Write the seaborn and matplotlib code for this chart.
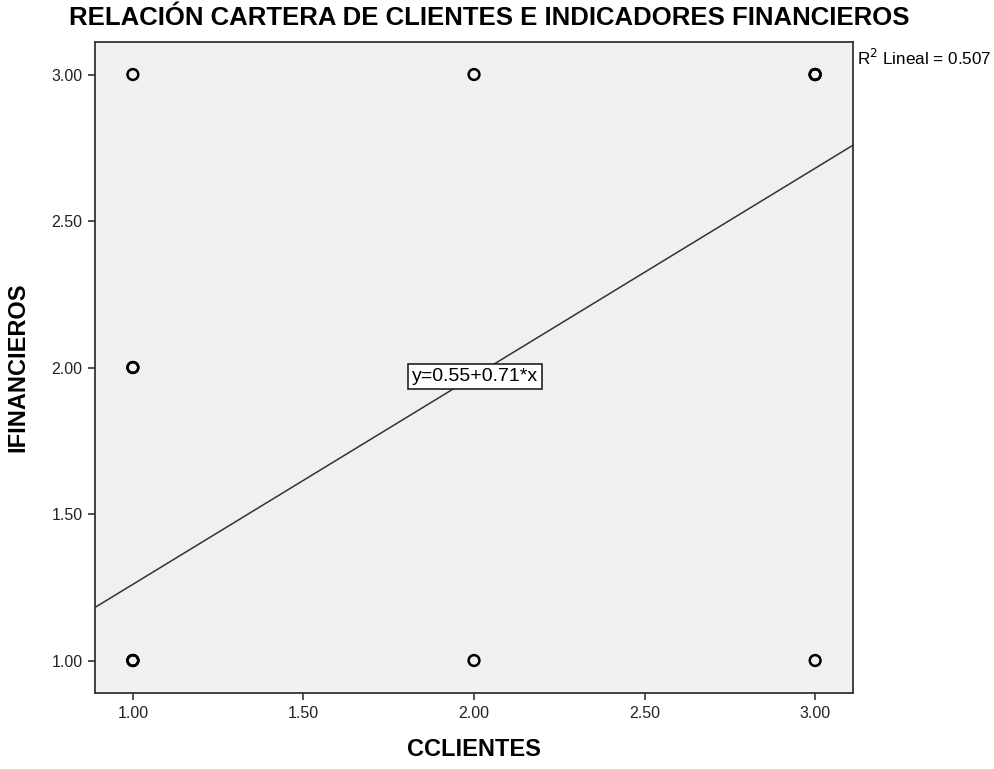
import numpy as np
import pandas as pd
import matplotlib
matplotlib.use("Agg")
import matplotlib.pyplot as plt
import seaborn as sns

# observed points (duplicates overlap, drawn thicker)
cclientes = [1, 1, 1, 1, 1, 1, 2, 2, 3, 3, 3, 3]
ifinancieros = [1, 1, 2, 2, 3, 1, 3, 1, 3, 3, 1, 3]

# fit line reported by the chart
intercept = 0.55
slope = 0.71
r2 = 0.507

ticks = [1.0, 1.5, 2.0, 2.5, 3.0]
lims = (0.889, 3.111)

df = pd.DataFrame({"CCLIENTES": cclientes, "IFINANCIEROS": ifinancieros})

sns.set_style("ticks")
plt.rcParams['font.family'] = ['Liberation Sans', 'DejaVu Sans']
plt.rcParams['text.color'] = 'black'
plt.rcParams['axes.labelcolor'] = 'black'

fig = plt.figure(figsize=(9.95, 7.69), dpi=100)
ax = fig.add_axes([0.0955, 0.0988, 0.7618, 0.8466])
ax.set_facecolor("#F0F0F0")

sns.scatterplot(data=df, x="CCLIENTES", y="IFINANCIEROS", ax=ax,
                marker="o", s=60, facecolor="none", edgecolor="black",
                linewidth=1.8, zorder=3)

xs = np.array(lims)
sns.lineplot(x=xs, y=intercept + slope * xs, ax=ax, color="#333333",
             linewidth=1.1, zorder=2)

ax.set_xlim(*lims)
ax.set_ylim(*lims)
ax.set_xticks(ticks)
ax.set_yticks(ticks)
ax.set_xticklabels([f"{t:.2f}" for t in ticks], fontsize=11.5, color="#222222")
ax.set_yticklabels([f"{t:.2f}" for t in ticks], fontsize=11.5, color="#222222")
ax.tick_params(length=5, width=1.2, color="#333333", pad=4)
for sp in ax.spines.values():
    sp.set_visible(True)
    sp.set_color("#333333")
    sp.set_linewidth(1.3)

ax.set_xlabel("CCLIENTES", fontsize=17, fontweight="bold")
ax.set_ylabel("IFINANCIEROS", fontsize=17, fontweight="bold")
ax.xaxis.set_label_coords(0.5, -0.069)
ax.yaxis.set_label_coords(-0.087, 0.5)

fig.text(0.492, 0.977, "RELACIÓN CARTERA DE CLIENTES E INDICADORES FINANCIEROS",
         ha="center", va="center", fontsize=18.5, fontweight="bold")

ax.text(2.003, 1.969, f"y={intercept:.2f}+{slope:.2f}*x", ha="center", va="center",
        fontsize=14, zorder=4,
        bbox=dict(boxstyle="square,pad=0.2", facecolor="white", edgecolor="#222222",
                  linewidth=1.2))

fig.text(0.861, 0.924, f"R$^2$ Lineal = {r2:.3f}", ha="left", va="center", fontsize=12.3)

fig.savefig("out.png", dpi=100)
